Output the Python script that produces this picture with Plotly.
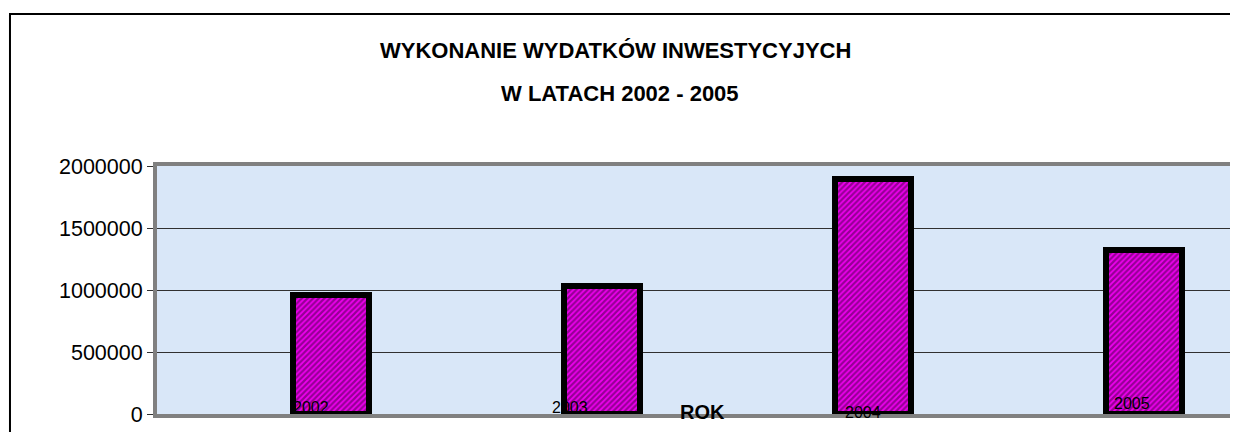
import plotly.graph_objects as go

# ---- data ----
years = [2002, 2003, 2004, 2005]
values = [960000, 1030000, 1895000, 1320000]
year_labels = ["2002", "2003", "2004", "2005"]
title_line1 = "WYKONANIE WYDATKÓW INWESTYCYJYCH"
title_line2 = "W LATACH 2002 - 2005"
x_title = "ROK"
y_ticks = [0, 500000, 1000000, 1500000, 2000000]

# ---- style (offsets of the quirky category labels, in px) ----
label_dx = [-20, -32, -10, -12]
label_dy = [7, 7, 2, 11]

FONT = "Arial, 'Liberation Sans', sans-serif"

fig = go.Figure()
fig.add_trace(go.Bar(
    x=years, y=values, width=0.28,
    marker=dict(
        color="#e600e6",
        line=dict(color="black", width=6),
        pattern=dict(shape="/", fgcolor="#380038", bgcolor="#f000f0",
                     size=4, solidity=0.55, fillmode="overlay"),
    ),
    hoverinfo="x+y", showlegend=False,
))

annotations = []
for yr, lab, dx, dy in zip(years, year_labels, label_dx, label_dy):
    annotations.append(dict(
        x=yr, y=0, xref="x", yref="y", text=lab, showarrow=False,
        xanchor="center", yanchor="middle",
        xshift=dx, yshift=dy, font=dict(family=FONT, size=16, color="black"),
    ))
annotations.append(dict(
    x=0.505, y=0.008, xref="paper", yref="paper", text="<b>" + x_title + "</b>",
    xanchor="center", yanchor="middle",
    showarrow=False, font=dict(family=FONT, size=20, color="black"),
))
annotations.append(dict(
    x=0.4237, y=1.4677, xref="paper", yref="paper", text="<b>" + title_line1 + "</b>",
    xanchor="center", yanchor="middle",
    showarrow=False, font=dict(family=FONT, size=22, color="black"),
))
annotations.append(dict(
    x=0.4283, y=1.294, xref="paper", yref="paper", text="<b>" + title_line2 + "</b>",
    xanchor="center", yanchor="middle",
    showarrow=False, font=dict(family=FONT, size=22, color="black"),
))

# the page body has an 8px margin; size the figure so the plot lands where the reference has it
fig.update_layout(
    width=1230, height=424,
    margin=dict(l=149, r=0, t=158, b=18),
    paper_bgcolor="white",
    plot_bgcolor="#d9e7f8",
    font=dict(family=FONT, color="black"),
    annotations=annotations,
    bargap=0,
    shapes=[dict(
        type="rect", xref="paper", yref="paper",
        x0=-0.136, x1=1.2, y0=-0.5, y1=1.613,
        line=dict(color="black", width=2), layer="below",
    )],
)
fig.update_xaxes(
    range=[2001.358, 2005.347], showticklabels=False, showgrid=False,
    zeroline=False, showline=True, linecolor="#808080", linewidth=4, mirror=True,
    ticks="",
)
fig.update_yaxes(
    range=[0, 2000000], tickvals=y_ticks, ticktext=[str(v) for v in y_ticks],
    showgrid=True, gridcolor="#303030", gridwidth=1, zeroline=False,
    showline=True, linecolor="#808080", linewidth=4,
    ticks="outside", ticklen=6, tickcolor="#303030", tickwidth=1,
    tickfont=dict(family=FONT, size=21.5, color="black"),
)

fig.write_html("out.html")
